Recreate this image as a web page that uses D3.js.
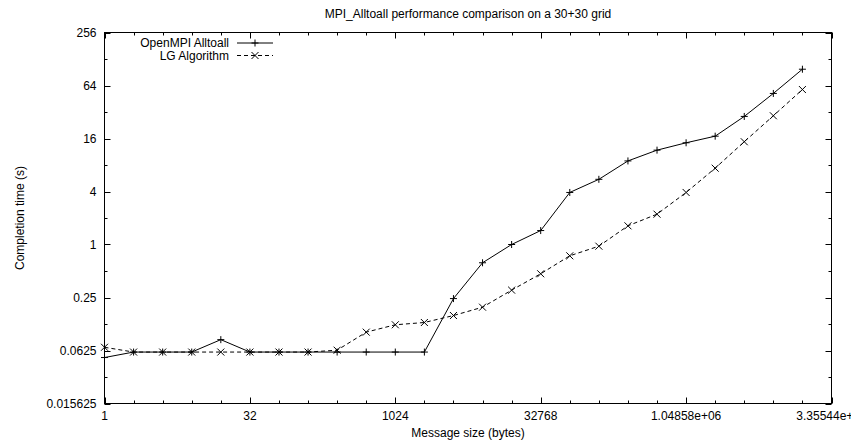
<!DOCTYPE html>
<html>
<head>
<meta charset="utf-8">
<script src="https://cdn.jsdelivr.net/npm/d3@7"></script>
<style>
  html, body { margin: 0; padding: 0; background: #fff; }
  svg { display: block; font-family: "Liberation Sans", Arial, Helvetica, sans-serif; }
</style>
</head>
<body>
<svg id="chart" width="851" height="443"></svg>
<script>
// Message sizes in bytes (powers of two)
const messageSizes = [1, 2, 4, 8, 16, 32, 64, 128, 256, 512, 1024, 2048, 4096, 8192,
  16384, 32768, 65536, 131072, 262144, 524288, 1048576, 2097152, 4194304, 8388608, 16777216];

// Completion times in seconds
const openmpiTimes = [0.052, 0.06, 0.06, 0.06, 0.083, 0.06, 0.06, 0.06, 0.06, 0.06, 0.06, 0.06,
  0.243, 0.62, 1.0, 1.44, 3.9, 5.5, 8.9, 11.8, 14.3, 17.0, 28.5, 52, 98];
const lgTimes = [0.068, 0.06, 0.06, 0.06, 0.06, 0.06, 0.06, 0.06, 0.063, 0.101, 0.1225, 0.13,
  0.156, 0.194, 0.303, 0.465, 0.744, 0.957, 1.63, 2.21, 3.9, 7.36, 14.7, 29.0, 57.6];

// Axis ticks
const xMajorTicks = [1, 32, 1024, 32768, 1048576, 33554432];
const xTickLabels = ["1", "32", "1024", "32768", "1.04858e+06", "3.35544e+07"];
const xMinorTicks = [2, 4, 8, 16, 64, 128, 256, 512, 2048, 4096, 8192, 16384, 65536, 131072,
  262144, 524288, 2097152, 4194304, 8388608, 16777216];
const yMajorTicks = [0.015625, 0.0625, 0.25, 1, 4, 16, 64, 256];
const yTickLabels = ["0.015625", "0.0625", "0.25", "1", "4", "16", "64", "256"];
const yMinorTicks = [0.03125, 0.125, 0.5, 2, 8, 32, 128];

const seriesNames = ["OpenMPI Alltoall", "LG Algorithm"];

const svg = d3.select("#chart");
const plotLeft = 104.5, plotRight = 831.5, plotTop = 32.5, plotBottom = 403.5;

const x = d3.scaleLog().base(2).domain([1, 33554432]).range([plotLeft, plotRight]);
const y = d3.scaleLog().base(2).domain([0.015625, 256]).range([plotBottom, plotTop]);

const fontSize = 12;
const majorLen = 6, minorLen = 3;

// Title
svg.append("text")
  .attr("x", (plotLeft + plotRight) / 2).attr("y", 18)
  .attr("text-anchor", "middle").attr("font-size", fontSize)
  .text("MPI_Alltoall performance comparison on a 30+30 grid");

// Frame
svg.append("rect")
  .attr("x", plotLeft).attr("y", plotTop)
  .attr("width", plotRight - plotLeft).attr("height", plotBottom - plotTop)
  .attr("fill", "none").attr("stroke", "#000").attr("stroke-width", 1);

// Ticks drawn inward on all four sides
const tickG = svg.append("g").attr("stroke", "#000").attr("stroke-width", 1);
function xTicks(vals, len) {
  vals.forEach(v => {
    const px = Math.round(x(v)) + 0.5;
    tickG.append("line").attr("x1", px).attr("x2", px).attr("y1", plotBottom).attr("y2", plotBottom - len);
    tickG.append("line").attr("x1", px).attr("x2", px).attr("y1", plotTop).attr("y2", plotTop + len);
  });
}
function yTicks(vals, len) {
  vals.forEach(v => {
    const py = Math.round(y(v)) + 0.5;
    tickG.append("line").attr("y1", py).attr("y2", py).attr("x1", plotLeft).attr("x2", plotLeft + len);
    tickG.append("line").attr("y1", py).attr("y2", py).attr("x1", plotRight).attr("x2", plotRight - len);
  });
}
xTicks(xMajorTicks, majorLen);
xTicks(xMinorTicks, minorLen);
yTicks(yMajorTicks, majorLen);
yTicks(yMinorTicks, minorLen);

// Tick labels
svg.append("g").selectAll("text").data(xMajorTicks).join("text")
  .attr("x", d => x(d)).attr("y", plotBottom + 16)
  .attr("text-anchor", "middle").attr("font-size", fontSize)
  .text((d, i) => xTickLabels[i]);
svg.append("g").selectAll("text").data(yMajorTicks).join("text")
  .attr("x", plotLeft - 8).attr("y", d => y(d))
  .attr("dy", "0.35em")
  .attr("text-anchor", "end").attr("font-size", fontSize)
  .text((d, i) => yTickLabels[i]);

// Axis titles
svg.append("text")
  .attr("x", (plotLeft + plotRight) / 2).attr("y", plotBottom + 33)
  .attr("text-anchor", "middle").attr("font-size", fontSize)
  .text("Message size (bytes)");
svg.append("text")
  .attr("transform", `translate(24,${(plotTop + plotBottom) / 2}) rotate(-90)`)
  .attr("text-anchor", "middle").attr("font-size", fontSize)
  .text("Completion time (s)");

// Series
const line = d3.line().x(d => x(d[0])).y(d => y(d[1]));
const plus = (g, cx, cy) => {
  g.append("path").attr("d", `M${cx - 3.5},${cy}H${cx + 3.5}M${cx},${cy - 3.5}V${cy + 3.5}`)
    .attr("stroke", "#000").attr("fill", "none");
};
const cross = (g, cx, cy) => {
  g.append("path").attr("d", `M${cx - 3.5},${cy - 3.5}L${cx + 3.5},${cy + 3.5}M${cx - 3.5},${cy + 3.5}L${cx + 3.5},${cy - 3.5}`)
    .attr("stroke", "#000").attr("fill", "none");
};

const series = [
  { name: seriesNames[0], values: openmpiTimes, dash: null, marker: plus },
  { name: seriesNames[1], values: lgTimes, dash: "4,3", marker: cross }
];

const plotG = svg.append("g");
series.forEach(s => {
  const pts = messageSizes.map((m, i) => [m, s.values[i]]);
  plotG.append("path").datum(pts)
    .attr("d", line)
    .attr("fill", "none").attr("stroke", "#000").attr("stroke-width", 1)
    .attr("stroke-dasharray", s.dash);
  pts.forEach(p => s.marker(plotG, x(p[0]), y(p[1])));
});

// Legend
const legendG = svg.append("g");
series.forEach((s, i) => {
  const ly = 43 + i * 12.5;
  legendG.append("text")
    .attr("x", 229).attr("y", ly).attr("dy", "0.35em")
    .attr("text-anchor", "end").attr("font-size", fontSize)
    .text(s.name);
  legendG.append("line")
    .attr("x1", 237).attr("x2", 273).attr("y1", ly).attr("y2", ly)
    .attr("stroke", "#000").attr("stroke-width", 1)
    .attr("stroke-dasharray", s.dash);
  s.marker(legendG, 255, ly);
});
</script>
</body>
</html>
